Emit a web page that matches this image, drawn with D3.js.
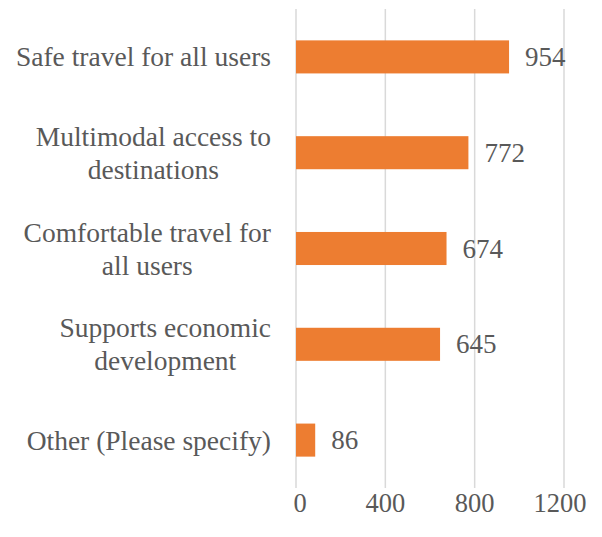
<!DOCTYPE html>
<html>
<head>
<meta charset="utf-8">
<script src="https://cdn.jsdelivr.net/npm/d3@7"></script>
<style>
  html, body { margin: 0; padding: 0; background: #fff; }
  svg text { font-family: "Liberation Serif", "DejaVu Serif", serif; fill: #595959; }
</style>
</head>
<body>
<svg id="chart" width="602" height="537"></svg>
<script>
// Survey priorities and response counts
const categories = [
  ["Safe travel for all users"],
  ["Multimodal access to", "destinations"],
  ["Comfortable travel for", "all users"],
  ["Supports economic", "development"],
  ["Other (Please specify)"]
];
const counts = [954, 772, 674, 645, 86];
const tickValues = [0, 400, 800, 1200];

const svg = d3.select("#chart");
const plotLeft = 296, plotRight = 564, plotTop = 9, plotBottom = 488;

const x = d3.scaleLinear().domain([0, 1200]).range([plotLeft, plotRight]);
const y = d3.scaleBand().domain(d3.range(categories.length))
  .range([plotTop, plotBottom]).paddingInner(0.655).paddingOuter(0.3275);

// vertical gridlines
svg.append("g").selectAll("line").data(tickValues).join("line")
  .attr("x1", d => x(d)).attr("x2", d => x(d))
  .attr("y1", plotTop).attr("y2", plotBottom)
  .attr("stroke", "#D9D9D9").attr("stroke-width", 1.5);

// tick labels
svg.append("g").selectAll("text").data(tickValues).join("text")
  .attr("x", d => x(d) + (d === 0 ? 4 : d === 1200 ? -4 : 0))
  .attr("y", 503)
  .attr("text-anchor", "middle").attr("dominant-baseline", "central")
  .attr("font-size", 26.5)
  .text(d => d);

// bars
svg.append("g").selectAll("rect").data(counts).join("rect")
  .attr("x", x(0)).attr("y", (d, i) => y(i))
  .attr("width", d => x(d) - x(0)).attr("height", y.bandwidth())
  .attr("fill", "#ED7D31");

// value labels
svg.append("g").selectAll("text").data(counts).join("text")
  .attr("x", d => x(d) + 16)
  .attr("y", (d, i) => y(i) + y.bandwidth() / 2)
  .attr("dominant-baseline", "central")
  .attr("font-size", 27)
  .text(d => d);

// category labels, centered per line, right-aligned as a block
const lineH = 33;
const cat = svg.append("g").selectAll("g").data(categories).join("g")
  .attr("transform", (d, i) => `translate(0,${y(i) + y.bandwidth() / 2})`);
cat.each(function(lines) {
  const g = d3.select(this);
  const texts = g.selectAll("text").data(lines).join("text")
    .attr("y", (d, j) => (j - (lines.length - 1) / 2) * lineH)
    .attr("dominant-baseline", "central")
    .attr("text-anchor", "middle")
    .attr("font-size", 27.5)
    .text(d => d);
  const w = d3.max(texts.nodes(), n => n.getComputedTextLength());
  texts.attr("x", 271 - w / 2);
});
</script>
</body>
</html>
